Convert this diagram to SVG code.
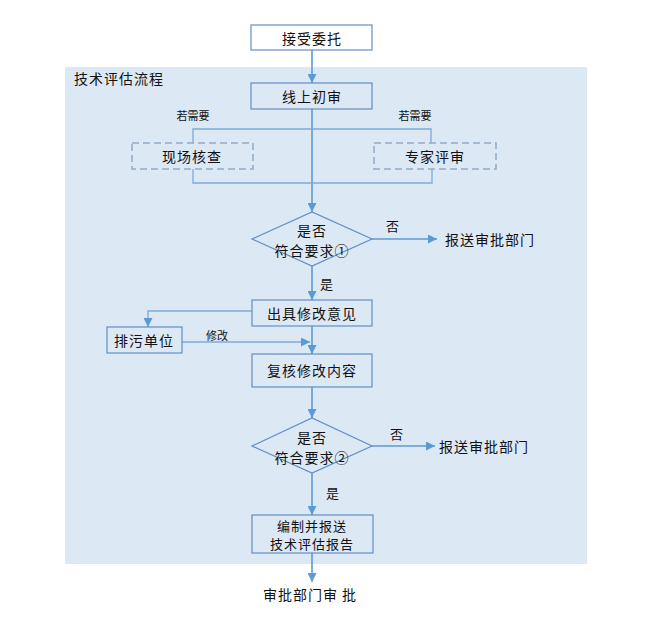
<svg xmlns="http://www.w3.org/2000/svg" width="650" height="625" viewBox="0 0 650 625">
<defs>
<marker id="ah" viewBox="0 0 10 10" refX="10" refY="5" markerWidth="10" markerHeight="9" markerUnits="userSpaceOnUse" orient="auto">
<path d="M0,0 L10,5 L0,10 z" fill="#5b9bd5"/>
</marker>
</defs>
<style>
text{font-family:"Noto Sans CJK SC","Noto Sans",sans-serif;fill:#111;dominant-baseline:central;text-anchor:middle}
.t{font-size:14px;letter-spacing:1px}
.s{font-size:11px}
.box{fill:#dde8f5;stroke:#5f8fc6;stroke-width:1.2}
.dash{fill:#dde8f5;stroke:#92a9c6;stroke-width:1.5;stroke-dasharray:7,4}
.ln{fill:none;stroke:#5b9bd5;stroke-width:1.6}
.lnt{fill:none;stroke:#7eaad9;stroke-width:1.3}
.arr{marker-end:url(#ah)}
</style>
<rect x="65" y="67" width="522" height="497" fill="#dde8f5"/>
<text class="t" x="74" y="78" style="text-anchor:start">技术评估流程</text>
<g id="connectors">
<path class="ln arr" d="M312,50 V83"/>
<path class="ln arr" d="M312,109 V212"/>
<path class="lnt" d="M193,143 V129 H431 V143"/>
<path class="lnt" d="M193,169 V183 H432 V169"/>
<path class="ln arr" d="M372,239 H437"/>
<path class="ln arr" d="M312,266 V300"/>
<path class="lnt arr" d="M252,311 H148 V327"/>
<path class="lnt arr" d="M182,342 H310"/>
<path class="ln arr" d="M312,326 V354"/>
<path class="ln arr" d="M312,387 V418"/>
<path class="ln arr" d="M372,446 H435"/>
<path class="ln arr" d="M312,473 V515"/>
<path class="ln arr" d="M312,553 V582"/>
<text class="s" x="193" y="115">若需要</text>
<text class="s" x="415" y="115">若需要</text>
<text class="t" x="393" y="225" style="font-size:13px">否</text>
<text class="t" x="327" y="283" style="font-size:13px">是</text>
<text class="s" x="217" y="335">修改</text>
<text class="t" x="397" y="433" style="font-size:13px">否</text>
<text class="t" x="333" y="492" style="font-size:13px">是</text>
</g>
<g id="n1"><rect x="251" y="25" width="121" height="25" fill="#fff" stroke="#5f8fc6" stroke-width="1.2"/><text class="t" x="312" y="38">接受委托</text></g>
<g id="n2"><rect class="box" x="251" y="83" width="121" height="26"/><text class="t" x="312" y="96">线上初审</text></g>
<g id="n3"><rect class="dash" x="132" y="143" width="121" height="26"/><text class="t" x="192" y="156">现场核查</text></g>
<g id="n4"><rect class="dash" x="374" y="143" width="122" height="26"/><text class="t" x="435" y="156">专家评审</text></g>
<g id="n5"><path class="box" d="M252,239 L312,212 L372,239 L312,266 z"/><text class="t" x="312" y="230">是否</text><text class="t" x="312" y="250">符合要求①</text></g>
<g id="n6"><text class="t" x="445" y="239" style="text-anchor:start">报送审批部门</text></g>
<g id="n7"><rect class="box" x="252" y="300" width="120" height="26"/><text class="t" x="312" y="313">出具修改意见</text></g>
<g id="n8"><rect class="box" x="107" y="327" width="75" height="26"/><text class="t" x="144" y="340">排污单位</text></g>
<g id="n9"><rect class="box" x="252" y="354" width="120" height="33"/><text class="t" x="312" y="370">复核修改内容</text></g>
<g id="n10"><path class="box" d="M252,446 L312,418 L372,446 L312,473 z"/><text class="t" x="312" y="437">是否</text><text class="t" x="312" y="457">符合要求②</text></g>
<g id="n11"><text class="t" x="439" y="446" style="text-anchor:start">报送审批部门</text></g>
<g id="n12"><rect class="box" x="252" y="515" width="121" height="38"/><text class="t" x="312" y="525" style="font-size:13px">编制并报送</text><text class="t" x="312" y="543" style="font-size:13px">技术评估报告</text></g>
<g id="n13"><text class="t" x="310" y="594">审批部门审 批</text></g>
</svg>
